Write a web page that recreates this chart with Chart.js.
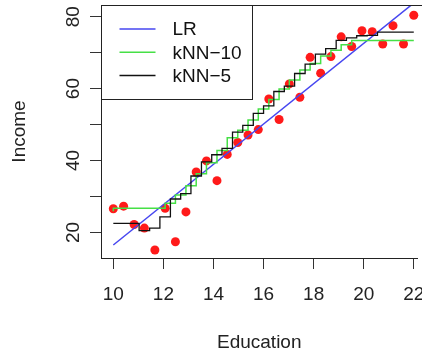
<!DOCTYPE html>
<html>
<head>
<meta charset="utf-8">
<script src="https://cdn.jsdelivr.net/npm/chart.js@4.4.1/dist/chart.umd.min.js"></script>
<style>
  html, body { margin: 0; padding: 0; background: #fff; overflow: hidden; }
  #chart { display: block; }
</style>
</head>
<body>
<canvas id="chart" width="422" height="352"></canvas>
<script>
// observed points
const education = [10, 10.41, 10.83, 11.24, 11.66, 12.07, 12.48, 12.9, 13.31, 13.72,
  14.14, 14.55, 14.97, 15.38, 15.79, 16.21, 16.62, 17.03, 17.45, 17.86,
  18.28, 18.69, 19.1, 19.52, 19.93, 20.34, 20.76, 21.17, 21.59, 22];
const income = [26.6, 27.3, 22.2, 21.2, 15.1, 26.7, 17.4, 25.7, 36.8, 39.9,
  34.4, 41.7, 45.0, 47.1, 48.6, 57.1, 51.4, 61.3, 57.6, 68.7,
  64.3, 68.9, 74.4, 71.7, 76.1, 75.8, 72.4, 77.5, 72.4, 80.4];

// fitted lines
const lrX = [10, 22];
const lrY = [16.5, 83.8];

const knn10X = [10, 12.07, 12.48, 12.9, 13.31, 13.72, 14.14, 14.55, 14.97, 15.38, 15.79,
  16.21, 16.62, 17.03, 17.45, 17.86, 18.28, 18.69, 19.1, 19.52, 19.93, 22];
const knn10Y = [25.9, 26.7, 28.1, 30.4, 33.0, 36.3, 39.4, 42.8, 46.3, 48.4, 51.3,
  54.3, 57.0, 59.9, 62.4, 65.2, 67.0, 69.1, 70.7, 72.2, 73.4, 73.4];

const knn5X = [10, 11.03, 11.45, 11.86, 12.28, 12.69, 13.1, 13.52, 13.93, 14.34, 14.76,
  15.17, 15.59, 16.0, 16.41, 16.83, 17.24, 17.66, 18.07, 18.48, 18.9,
  19.31, 19.72, 20.14, 20.55, 20.97, 22];
const knn5Y = [22.5, 22.5, 20.5, 21.2, 24.3, 29.3, 30.8, 35.7, 39.6, 41.6, 43.4,
  47.9, 49.8, 53.1, 55.2, 59.2, 60.7, 64.2, 66.8, 69.6, 71.1,
  73.4, 74.1, 74.7, 74.8, 75.7, 75.7];

const xTicks = [10, 12, 14, 16, 18, 20, 22];
const yTicks = [20, 30, 40, 50, 60, 70, 80];
const yLabels = ["20", "", "40", "", "60", "", "80"];

const legendItems = [
  { label: "LR", color: "#4646f0" },
  { label: "kNN\u221210", color: "#46e046" },
  { label: "kNN\u22125", color: "#111" }
];

const FONT = "'Liberation Sans', Arial, Helvetica, sans-serif";

const pairs = (xs, ys) => xs.map((x, i) => ({ x, y: ys[i] }));

// box on top + legend in the corner, like base R
const frame = {
  id: "frame",
  afterDatasetsDraw(chart) {
    const { ctx, chartArea: a } = chart;
    ctx.save();
    ctx.strokeStyle = "#222";
    ctx.lineWidth = 1;
    ctx.beginPath();
    ctx.moveTo(a.left, a.top + 0.5);
    ctx.lineTo(chart.width, a.top + 0.5);
    ctx.stroke();

    const bx = a.left + 0.5, by = a.top + 0.5, bw = 151, bh = 94;
    ctx.fillStyle = "#fff";
    ctx.fillRect(bx, by, bw, bh);
    ctx.strokeRect(bx, by, bw, bh);

    ctx.font = "19px " + FONT;
    ctx.textBaseline = "middle";
    ctx.fillStyle = "#111";
    legendItems.forEach((item, i) => {
      const y = by + 23.5 + i * 23.3;
      ctx.strokeStyle = item.color;
      ctx.lineWidth = 1.5;
      ctx.beginPath();
      ctx.moveTo(bx + 18, y);
      ctx.lineTo(bx + 54, y);
      ctx.stroke();
      ctx.fillText(item.label, bx + 71, y + 1);
    });
    ctx.restore();
  }
};

new Chart(document.getElementById("chart"), {
  type: "scatter",
  data: {
    datasets: [
      {
        label: "kNN-5",
        type: "line",
        data: pairs(knn5X, knn5Y),
        stepped: "after",
        borderColor: "#111",
        borderWidth: 1.3,
        pointRadius: 0,
        fill: false,
        order: 1
      },
      {
        label: "kNN-10",
        type: "line",
        data: pairs(knn10X, knn10Y),
        stepped: "after",
        borderColor: "#46e046",
        borderWidth: 1.5,
        pointRadius: 0,
        fill: false,
        order: 2
      },
      {
        label: "LR",
        type: "line",
        data: pairs(lrX, lrY),
        borderColor: "#4646f0",
        borderWidth: 1.5,
        pointRadius: 0,
        fill: false,
        order: 3
      },
      {
        label: "data",
        data: pairs(education, income),
        backgroundColor: "#ff1a1a",
        borderWidth: 0,
        pointRadius: 4.5,
        clip: false,
        order: 4
      }
    ]
  },
  options: {
    responsive: false,
    animation: false,
    layout: { padding: { top: 5, right: 0, bottom: 0, left: 0 } },
    plugins: { legend: { display: false }, tooltip: { enabled: false } },
    scales: {
      x: {
        type: "linear",
        min: 9.508,
        max: 22.148,
        afterFit: s => { s.height = 94; s.paddingLeft = 0; s.paddingRight = 0; },
        afterBuildTicks: s => { s.ticks = xTicks.map(v => ({ value: v })); },
        grid: { drawOnChartArea: false, drawTicks: true, tickLength: 11, tickColor: "#333", tickWidth: 1 },
        border: { display: true, color: "#222", width: 1 },
        ticks: { color: "#222", font: { family: FONT, size: 19 }, padding: 14, maxRotation: 0, autoSkip: false },
        title: { display: true, text: "Education", color: "#222", font: { family: FONT, size: 19, lineHeight: 1 }, padding: { top: 0, bottom: 0 } }
      },
      y: {
        type: "linear",
        min: 12.89,
        max: 83.25,
        afterFit: s => { s.width = 101; s.paddingTop = 0; s.paddingBottom = 0; },
        afterBuildTicks: s => { s.ticks = yTicks.map(v => ({ value: v })); },
        grid: { drawOnChartArea: false, drawTicks: true, tickLength: 11, tickColor: "#333", tickWidth: 1 },
        border: { display: true, color: "#222", width: 1 },
        ticks: {
          color: "#222",
          font: { family: FONT, size: 19 },
          padding: 5.5,
          minRotation: 90,
          maxRotation: 90,
          crossAlign: "center",
          autoSkip: false,
          callback: (v, i) => yLabels[i]
        },
        title: { display: true, text: "Income", color: "#222", font: { family: FONT, size: 19, lineHeight: 1 }, padding: { top: 10.5, bottom: 0 } }
      }
    }
  },
  plugins: [frame]
});
</script>
</body>
</html>
